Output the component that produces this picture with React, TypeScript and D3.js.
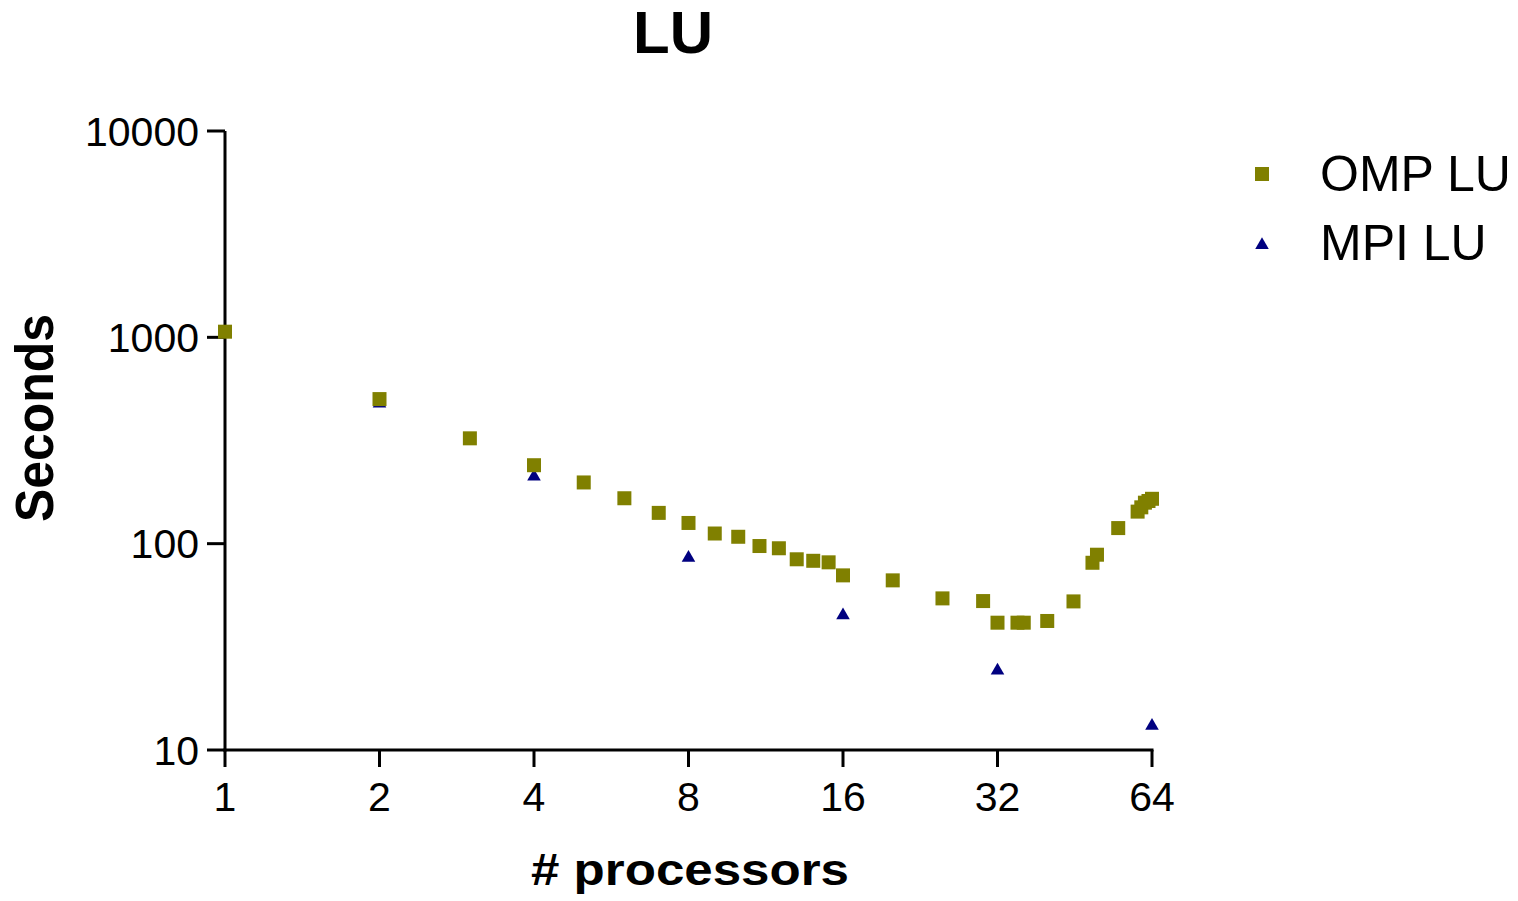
import React from "react";
import * as d3 from "d3";

const title = "LU";
const xTitle = "# processors";
const yTitle = "Seconds";

const xTicks = [1, 2, 4, 8, 16, 32, 64];
const yTicks = [10, 100, 1000, 10000];

const ompProcs = [1, 2, 3, 4, 5, 6, 7, 8, 9, 10, 11, 12, 13, 14, 15, 16, 20, 25, 30, 32, 35, 36, 40, 45, 49, 50, 55, 60, 61, 62, 63, 64];
const ompSeconds = [1065, 502, 324, 240, 198, 166, 141, 126, 112, 108, 97.4, 95, 84, 82.6, 81.2, 70.2, 66.4, 54.3, 52.7, 41.4, 41.4, 41.4, 42.2, 52.5, 80.8, 88.4, 119, 143, 150, 158, 161, 165];

const mpiProcs = [2, 4, 8, 16, 32, 64];
const mpiSeconds = [485, 215, 86.8, 45.7, 24.7, 13.3];

const seriesNames = ["OMP LU", "MPI LU"];
const OMP_COLOR = "#808000";
const MPI_COLOR = "#000080";

const FONT = "'Liberation Sans', Arial, Helvetica, sans-serif";

export default function App() {
  const W = 1518;
  const H = 901;
  const x = d3.scaleLog().base(2).domain([1, 64]).range([225, 1152]);
  const y = d3.scaleLog().base(10).domain([10, 10000]).range([750, 131]);

  const sq = 14;
  const tri = d3.symbol().type(d3.symbolTriangle).size(80)();

  const omp = ompProcs.map((p, i) => ({ p, s: ompSeconds[i] }));
  const mpi = mpiProcs.map((p, i) => ({ p, s: mpiSeconds[i] }));

  return (
    <svg
      width={W}
      height={H}
      style={{ position: "absolute", left: 0, top: 0, background: "#fff" }}
      fontFamily={FONT}
    >
      <rect x={0} y={0} width={W} height={H} fill="#fff" />
      {/* Title */}
      <text x={673} y={53} textAnchor="middle" fontSize={60} fontWeight="bold" fill="#000">
        {title}
      </text>

      {/* Y axis */}
      <line x1={225} x2={225} y1={y(10000)} y2={y(10) + 1.5} stroke="#000" strokeWidth={3} />
      {yTicks.map((t) => (
        <g key={"yt" + t}>
          <line x1={207} x2={225} y1={y(t)} y2={y(t)} stroke="#000" strokeWidth={3} />
          <text x={199} y={y(t) + 14.5} textAnchor="end" fontSize={41} fill="#000">
            {d3.format("d")(t)}
          </text>
        </g>
      ))}

      {/* X axis */}
      <line x1={x(1) - 1.5} x2={x(64) + 1.5} y1={750} y2={750} stroke="#000" strokeWidth={3} />
      {xTicks.map((t) => (
        <g key={"xt" + t}>
          <line x1={x(t)} x2={x(t)} y1={750} y2={767} stroke="#000" strokeWidth={3} />
          <text x={x(t)} y={811} textAnchor="middle" fontSize={41} fill="#000">
            {t}
          </text>
        </g>
      ))}

      {/* Axis titles */}
      <text
        x={690}
        y={885}
        textAnchor="middle"
        fontSize={45}
        fontWeight="bold"
        textLength={318}
        lengthAdjust="spacingAndGlyphs"
        fill="#000"
      >
        {xTitle}
      </text>
      <text
        transform={`translate(53,418) rotate(-90)`}
        textAnchor="middle"
        fontSize={53}
        fontWeight="bold"
        textLength={208}
        lengthAdjust="spacingAndGlyphs"
        fill="#000"
      >
        {yTitle}
      </text>

      {/* MPI points (drawn below OMP) */}
      {mpi.map((d, i) => (
        <path
          key={"m" + i}
          d={tri as string}
          transform={`translate(${x(d.p)},${y(d.s) + 1.5})`}
          fill={MPI_COLOR}
        />
      ))}

      {/* OMP points */}
      {omp.map((d, i) => (
        <rect
          key={"o" + i}
          x={x(d.p) - sq / 2}
          y={y(d.s) - sq / 2}
          width={sq}
          height={sq}
          fill={OMP_COLOR}
        />
      ))}

      {/* Legend */}
      <rect x={1262 - 7} y={174 - 7} width={14} height={14} fill={OMP_COLOR} />
      <text x={1320} y={191} fontSize={50} fill="#000">
        {seriesNames[0]}
      </text>
      <path d={tri as string} transform={`translate(1262,245)`} fill={MPI_COLOR} />
      <text x={1320} y={260} fontSize={50} fill="#000">
        {seriesNames[1]}
      </text>
    </svg>
  );
}
